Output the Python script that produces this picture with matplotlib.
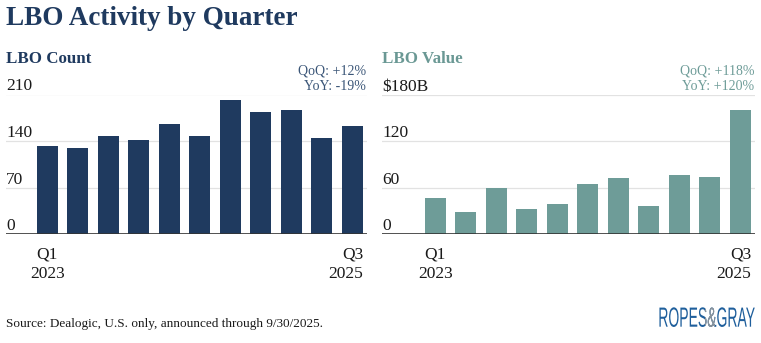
import matplotlib
matplotlib.use("Agg")
import matplotlib.pyplot as plt
from matplotlib import patheffects
from matplotlib.transforms import Affine2D, Bbox, blended_transform_factory

# quarterly LBO figures, Q1 2023 .. Q3 2025
quarters = ["Q1 2023", "Q2 2023", "Q3 2023", "Q4 2023", "Q1 2024", "Q2 2024",
            "Q3 2024", "Q4 2024", "Q1 2025", "Q2 2025", "Q3 2025"]
lbo_count = [132, 130, 148, 141, 165, 148, 201, 183, 186, 145, 162]
lbo_value = [46, 28, 60, 32, 38.5, 64, 72.7, 36, 76, 73.3, 160]

count_ticks = [0, 70, 140, 210]
value_ticks = [0, 60, 120, 180]
count_tick_labels = ["0", "70", "140", "210"]
value_tick_labels = ["0", "60", "120", "$180B"]

count_change = ["QoQ: +12%", "YoY: -19%"]
value_change = ["QoQ: +118%", "YoY: +120%"]

NAVY = "#1f3a5f"
TEAL = "#6e9c98"
SERIF = "Liberation Serif"

W, H = 761, 343
fig = plt.figure(figsize=(W / 100, H / 100), dpi=100)


def fx(px):
    return px / W


def fy(px):
    # pixel row measured from the top
    return 1 - px / H


fig.text(fx(6), fy(25), "LBO Activity by Quarter", family=SERIF,
         fontsize=19.5, fontweight="bold", color=NAVY, va="baseline")


def panel(left, right, xmin, values, ticks, tick_labels, color, title,
          title_color, changes, change_color):
    ax = fig.add_axes([fx(left), fy(234), fx(right - left), (234 - 94.5) / H])
    x = list(range(len(values)))
    ax.bar(x, values, width=0.69, color=color, zorder=2)
    ax.set_xlim(xmin, len(values) - 0.52)
    ax.set_ylim(0, ticks[-1])
    ax.axis("off")

    for t in ticks[1:]:
        ax.axhline(t, color="#e2e2e2", lw=0.9, zorder=1)
    ax.axhline(0, color="#333333", lw=1.2, zorder=3)

    lab_tr = blended_transform_factory(ax.transAxes, ax.transData)
    for t, lab in zip(ticks, tick_labels):
        ax.text(0, t + ticks[-1] * 4 / 139.5, lab, transform=lab_tr,
                family=SERIF, fontsize=12.5, color="#1a1a1a",
                ha="left", va="baseline")

    xl_tr = blended_transform_factory(ax.transData, fig.transFigure)
    first_q, first_y = quarters[0].split()
    last_q, last_y = quarters[-1].split()
    for txt, yy in [(first_q, 258.3), (first_y, 278.3)]:
        ax.text(x[0], fy(yy), txt, transform=xl_tr, family=SERIF,
                fontsize=12.5, color="#1a1a1a", ha="center", va="baseline")
    for txt, yy in [(last_q, 258.3), (last_y, 278.3)]:
        ax.text(x[-1] + 0.35, fy(yy), txt, transform=xl_tr, family=SERIF,
                fontsize=12.5, color="#1a1a1a", ha="right", va="baseline")

    fig.text(fx(left), fy(63), title, family=SERIF, fontsize=12.2,
             fontweight="bold", color=title_color, va="baseline")
    fig.text(fx(right - 1), fy(74.5), changes[0], family=SERIF, fontsize=10,
             color=change_color, ha="right", va="baseline")
    fig.text(fx(right - 1), fy(90.5), changes[1], family=SERIF, fontsize=10,
             color=change_color, ha="right", va="baseline")
    return ax


panel(6, 367, -1.35, lbo_count, count_ticks, count_tick_labels, NAVY,
      "LBO Count", NAVY, count_change, "#3a5577")
panel(382, 755, -1.75, lbo_value, value_ticks, value_tick_labels, TEAL,
      "LBO Value", "#6a9894", value_change, TEAL)

fig.text(fx(6), fy(327), "Source: Dealogic, U.S. only, announced through 9/30/2025.",
         family=SERIF, fontsize=9.5, color="#1a1a1a", va="baseline")


class Squeeze(patheffects.AbstractPathEffect):
    """Narrow the glyphs horizontally about display x0; optionally recolour
    only the part that falls inside a vertical band."""

    def __init__(self, sx, x0, band=None, color=None):
        super().__init__()
        self.sx = sx
        self.x0 = x0
        self.band = band
        self.color = color

    def draw_path(self, renderer, gc, tpath, affine, rgbFace=None):
        squeeze = Affine2D().translate(-self.x0, 0).scale(self.sx, 1).translate(self.x0, 0)
        if self.band is None:
            renderer.draw_path(gc, tpath, affine + squeeze, rgbFace)
            return
        gc0 = renderer.new_gc()
        gc0.copy_properties(gc)
        gc0.set_clip_rectangle(Bbox([[self.band[0], 0], [self.band[1], H]]))
        renderer.draw_path(gc0, tpath, affine + squeeze,
                           matplotlib.colors.to_rgba(self.color))
        gc0.restore()


# wordmark in the lower right corner, ampersand in grey
LOGO_X = 755
fig.text(fx(LOGO_X), fy(326.7), "ROPES&GRAY", family="Liberation Sans",
         fontsize=20, color="#1f5f9c", ha="right", va="baseline",
         path_effects=[Squeeze(0.503, LOGO_X),
                       Squeeze(0.503, LOGO_X, band=(704.5, 715.3), color="#8c9399")])

fig.savefig("out.png", dpi=100)
